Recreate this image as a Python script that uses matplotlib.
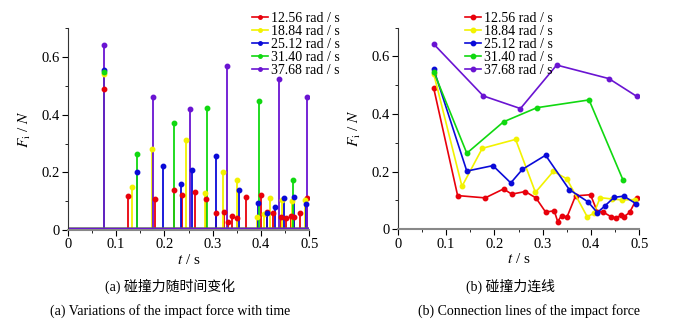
import numpy as np
import matplotlib
matplotlib.use("Agg")
import matplotlib.pyplot as plt
from matplotlib.ticker import MultipleLocator

plt.rcParams['font.family'] = ['Liberation Serif', 'Noto Sans CJK SC']
plt.rcParams['mathtext.fontset'] = 'stix'

# pics de la force de collision pour chaque vitesse
labels = ["12.56 rad / s", "18.84 rad / s", "25.12 rad / s", "31.40 rad / s", "37.68 rad / s"]
colors = ["#E8000B", "#F2F200", "#0A0AD8", "#10D810", "#6A14D2"]

t_red = [0.0745, 0.124, 0.181, 0.219, 0.236, 0.264, 0.286, 0.306, 0.324, 0.331, 0.339,
         0.350, 0.368, 0.399, 0.413, 0.425, 0.441, 0.451, 0.463, 0.469, 0.480, 0.496]
f_red = [0.490, 0.117, 0.109, 0.140, 0.122, 0.131, 0.109, 0.060, 0.064, 0.027, 0.047,
         0.041, 0.116, 0.120, 0.061, 0.060, 0.044, 0.040, 0.048, 0.044, 0.059, 0.110]

t_yel = [0.0745, 0.133, 0.175, 0.244, 0.285, 0.322, 0.350, 0.392, 0.406, 0.419, 0.444, 0.464, 0.492]
f_yel = [0.540, 0.149, 0.281, 0.312, 0.128, 0.201, 0.175, 0.044, 0.055, 0.110, 0.105, 0.102, 0.103]

t_blu = [0.0745, 0.143, 0.197, 0.234, 0.258, 0.306, 0.355, 0.394, 0.413, 0.428, 0.448, 0.468, 0.493]
f_blu = [0.556, 0.202, 0.221, 0.161, 0.208, 0.257, 0.138, 0.095, 0.058, 0.080, 0.111, 0.115, 0.089]

t_grn = [0.0745, 0.143, 0.219, 0.288, 0.396, 0.466]
f_grn = [0.547, 0.264, 0.373, 0.422, 0.449, 0.172]

t_pur = [0.0745, 0.177, 0.254, 0.329, 0.437, 0.495]
f_pur = [0.643, 0.463, 0.419, 0.570, 0.523, 0.461]

series = [(t_red, f_red), (t_yel, f_yel), (t_blu, f_blu), (t_grn, f_grn), (t_pur, f_pur)]

fig = plt.figure(figsize=(6.81, 3.21), dpi=100)
ax1 = fig.add_axes([0.0994, 0.2835, 0.3548, 0.6283])
ax2 = fig.add_axes([0.584, 0.2857, 0.3548, 0.6283])

# (a) pics en fonction du temps
for (t, f), c, lab in zip(series, colors, labels):
    ax1.vlines(t, 0, f, colors=c, lw=1.3, zorder=2)
    ax1.plot(t, f, 'o', color=c, ms=3.2, zorder=3)
    ax1.plot([], [], '-o', color=c, ms=2.5, lw=1.2, label=lab)
for c in colors:
    ax1.hlines(0.004, 0, 0.5, colors=c, lw=2.5, zorder=2)

# (b) lignes de connexion
for (t, f), c, lab in zip(series, colors, labels):
    ax2.plot(t, f, '-o', color=c, ms=3.2, lw=1.2, label=lab)

for ax in (ax1, ax2):
    ax.set_xlim(0, 0.5)
    ax.set_ylim(0, 0.7)
    ax.spines['top'].set_visible(False)
    ax.spines['right'].set_visible(False)
    ax.spines['left'].set_color('#333333')
    ax.spines['bottom'].set_color('#888888')
    ax.spines['bottom'].set_linewidth(1.5)
    ax.xaxis.set_minor_locator(MultipleLocator(0.05))
    ax.yaxis.set_minor_locator(MultipleLocator(0.1))
    ax.set_xticks([0, 0.1, 0.2, 0.3, 0.4, 0.5])
    ax.set_xticklabels(["0", "0.1", "0.2", "0.3", "0.4", "0.5"])
    ax.set_yticks([0, 0.2, 0.4, 0.6])
    ax.set_yticklabels(["0", "0.2", "0.4", "0.6"])
    ax.tick_params(which='both', direction='out', labelsize=10.5, pad=2)
    ax.tick_params(which='major', length=4)
    ax.tick_params(which='minor', length=2.5)
    ax.set_xlabel(r"$t$ / s", fontsize=11, labelpad=1)
    ax.set_ylabel(r"$F_{\mathrm{i}}$ / $N$", fontsize=11, labelpad=6)
    ax.legend(loc='upper left', frameon=False, fontsize=10, handlelength=1.2,
              handletextpad=0.2, labelspacing=0.0, borderaxespad=0)

leg1 = ax1.get_legend()
leg1.set_bbox_to_anchor((246 / 681, 1 - 6 / 321), transform=fig.transFigure)
leg2 = ax2.get_legend()
leg2.set_bbox_to_anchor((459 / 681, 1 - 6 / 321), transform=fig.transFigure)

fig.text(170 / 681, 1 - 286 / 321, "(a) 碰撞力随时间变化", ha='center', va='center', fontsize=10)
fig.text(170 / 681, 1 - 311 / 321, "(a) Variations of the impact force with time",
         ha='center', va='center', fontsize=10)
fig.text(510 / 681, 1 - 286 / 321, "(b) 碰撞力连线", ha='center', va='center', fontsize=10)
fig.text(529 / 681, 1 - 311 / 321, "(b) Connection lines of the impact force",
         ha='center', va='center', fontsize=10)

fig.savefig("out.png", dpi=100)
